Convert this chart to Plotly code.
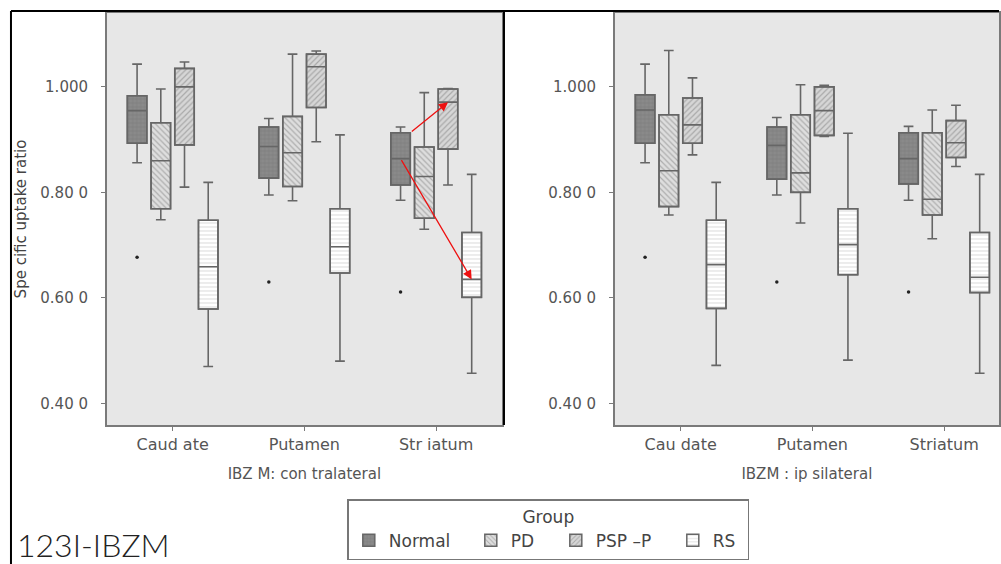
import plotly.graph_objects as go

# ---------------- data ----------------
regions = ["Caudate", "Putamen", "Striatum"]
left_labels = ["Caud ate", "Putamen", "Str iatum"]
right_labels = ["Cau date", "Putamen", "Striatum"]
groups = ["Normal", "PD", "PSP \u2013P", "RS"]

# contralateral  (rows: Normal, PD, PSP-P, RS ; columns: Caudate, Putamen, Striatum)
con_hi = [[1.043, 0.940, 0.924], [0.996, 1.062, 0.989], [1.047, 1.068, 0.997], [0.819, 0.909, 0.834]]
con_q3 = [[0.983, 0.924, 0.913], [0.932, 0.944, 0.886], [1.035, 1.062, 0.996], [0.747, 0.769, 0.724]]
con_md = [[0.955, 0.887, 0.864], [0.860, 0.875, 0.830], [1.000, 1.038, 0.971], [0.659, 0.697, 0.635]]
con_q1 = [[0.893, 0.827, 0.814], [0.769, 0.811, 0.751], [0.890, 0.961, 0.882], [0.579, 0.647, 0.601]]
con_lo = [[0.856, 0.795, 0.785], [0.748, 0.784, 0.730], [0.810, 0.896, 0.814], [0.470, 0.480, 0.457]]
con_outlier = [0.677, 0.630, 0.611]   # Normal group

# ipsilateral
ips_hi = [[1.043, 0.942, 0.925], [1.069, 1.004, 0.956], [1.017, 1.003, 0.965], [0.819, 0.912, 0.834]]
ips_q3 = [[0.985, 0.924, 0.913], [0.947, 0.947, 0.913], [0.979, 1.000, 0.936], [0.747, 0.769, 0.724]]
ips_md = [[0.956, 0.889, 0.864], [0.841, 0.837, 0.787], [0.928, 0.955, 0.894], [0.663, 0.701, 0.639]]
ips_q1 = [[0.893, 0.825, 0.816], [0.773, 0.800, 0.757], [0.893, 0.908, 0.866], [0.580, 0.644, 0.610]]
ips_lo = [[0.856, 0.795, 0.785], [0.757, 0.742, 0.712], [0.871, 0.906, 0.849], [0.472, 0.482, 0.457]]
ips_outlier = [0.677, 0.630, 0.611]

y_ticks = [0.4, 0.6, 0.8, 1.0]
y_ticktext = ["0.40 0", "0.60 0", "0.80 0", "1.000"]

# ---------------- styles ----------------
LINE = "#666666"
styles = [
    dict(bg="#8a8a8a", fg="#727272", shape="+", size=4, solidity=0.3, lw=77),
    dict(bg="#dedede", fg="#7c7c7c", shape="\\", size=4, solidity=0.3, lw=40),
    dict(bg="#d6d6d6", fg="#7c7c7c", shape="/", size=4, solidity=0.3, lw=72),
    dict(bg="#ffffff", fg="#b5b5b5", shape="-", size=4, solidity=0.25, lw=30),
]
SLOT = 0.18
BOXW = 0.148
FONT = "DejaVu Sans"

def gpos(region_idx, group_idx):
    return region_idx + (group_idx - 1.5) * SLOT

fig = go.Figure()

panels = [
    ("x", "y", con_hi, con_q3, con_md, con_q1, con_lo, con_outlier, True),
    ("x2", "y2", ips_hi, ips_q3, ips_md, ips_q1, ips_lo, ips_outlier, False),
]
for xa, ya, hi, q3, md, q1, lo, outl, show in panels:
    for g, name in enumerate(groups):
        pos = [gpos(i, g) for i in range(len(regions))]
        st = styles[g]
        fig.add_trace(go.Bar(
            x=pos, y=[b - a for a, b in zip(q1[g], q3[g])], base=q1[g], width=BOXW,
            xaxis=xa, yaxis=ya, name=name, legendgroup=name, showlegend=show,
            legendwidth=st["lw"],
            marker=dict(color=st["bg"], line=dict(color=LINE, width=1.5),
                        pattern=dict(shape=st["shape"], fgcolor=st["fg"], bgcolor=st["bg"],
                                     size=st["size"], solidity=st["solidity"])),
            hoverinfo="skip",
        ))
        fig.add_trace(go.Box(
            x=pos, q1=q1[g], median=md[g], q3=q3[g], lowerfence=lo[g], upperfence=hi[g],
            width=BOXW, whiskerwidth=0.5, boxpoints=False,
            fillcolor="rgba(0,0,0,0)", line=dict(color=LINE, width=1.6),
            xaxis=xa, yaxis=ya, name=name, legendgroup=name, showlegend=False,
        ))
    fig.add_trace(go.Scatter(
        x=[gpos(i, 0) for i in range(len(regions))], y=outl, mode="markers",
        marker=dict(color="#222222", size=3.5), xaxis=xa, yaxis=ya, showlegend=False,
        hoverinfo="skip",
    ))

W, H = 1001, 564
def px_x(p):
    return p / W
def px_y(p):
    return 1 - p / H

axis_line = dict(showgrid=False, zeroline=False, showline=True, linecolor="#7a7a7a",
                 linewidth=1.5, mirror=True, ticks="outside", ticklen=4, tickcolor="#7a7a7a")
ytick_font = dict(family=FONT, size=15, color="#555555")
xtick_font = dict(family=FONT, size=16, color="#555555")

# hand-drawn red arrows (Striatum, contralateral): Normal -> PSP-P median, Normal -> RS median
s = 2
red_arrows = [
    dict(x=gpos(s, 2), y=con_md[2][s], ax=gpos(s, 0) + BOXW / 2, ay=con_q3[0][s]),
    dict(x=gpos(s, 3), y=con_md[3][s], ax=gpos(s, 0), ay=con_md[0][s]),
]
arrow_annots = [
    dict(xref="x", yref="y", axref="x", ayref="y", x=a["x"], y=a["y"], ax=a["ax"], ay=a["ay"],
         text="", showarrow=True, arrowhead=2, arrowsize=1.4, arrowwidth=1.3,
         arrowcolor="#ee1111", standoff=0, startstandoff=0)
    for a in red_arrows
]

fig.update_layout(
    width=W, height=H, margin=dict(l=0, r=0, t=0, b=0),
    paper_bgcolor="white", plot_bgcolor="#e7e7e7",
    barmode="overlay", boxmode="overlay",
    font=dict(family=FONT, color="#555555"),
    xaxis=dict(domain=[px_x(107), px_x(503)], range=[-0.5, 2.5], tickvals=[0, 1, 2],
               ticktext=left_labels, anchor="y", tickfont=xtick_font,
               title=dict(text="IBZ M: con tralateral", standoff=16,
                          font=dict(family=FONT, size=15, color="#555555")),
               **axis_line),
    xaxis2=dict(domain=[px_x(616), 1.0], range=[-0.5, -0.5 + 385 / 132], tickvals=[0, 1, 2],
                ticktext=right_labels, anchor="y2", tickfont=xtick_font,
                title=dict(text="IBZM : ip silateral", standoff=16,
                           font=dict(family=FONT, size=15, color="#555555")),
                **axis_line),
    yaxis=dict(domain=[px_y(425), px_y(13)], range=[0.359, 1.140], tickvals=y_ticks,
               ticktext=y_ticktext, anchor="x", tickfont=ytick_font, ticklabelstandoff=10,
               title=dict(text="Spe cific uptake ratio", standoff=10,
                          font=dict(family=FONT, size=15, color="#444444")),
               **axis_line),
    yaxis2=dict(domain=[px_y(425), px_y(13)], range=[0.359, 1.140], tickvals=y_ticks,
                ticktext=y_ticktext, anchor="x2", tickfont=ytick_font, ticklabelstandoff=10,
                **axis_line),
    legend=dict(orientation="h", x=px_x(348), xanchor="left", y=px_y(499), yanchor="top",
                title=dict(text="Group", side="top center",
                           font=dict(family=FONT, size=17, color="#444444")),
                font=dict(family=FONT, size=17, color="#444444"),
                bordercolor="#777777", borderwidth=1.5, bgcolor="white",
                itemwidth=30, traceorder="normal"),
    showlegend=True,
    shapes=[
        dict(type="line", xref="paper", yref="paper", x0=px_x(11), x1=1.0, y0=px_y(11), y1=px_y(11),
             line=dict(color="black", width=2)),
        dict(type="line", xref="paper", yref="paper", x0=px_x(11), x1=px_x(11), y0=px_y(11), y1=0,
             line=dict(color="black", width=2)),
        dict(type="line", xref="paper", yref="paper", x0=px_x(505), x1=px_x(505), y0=px_y(11), y1=px_y(425),
             line=dict(color="black", width=2)),
    ],
    annotations=[
        dict(text="123I-IBZM", xref="paper", yref="paper", x=px_x(15), y=px_y(544),
             xanchor="left", yanchor="middle", showarrow=False,
             font=dict(family="Lato", size=32, color="#222222", weight=300)),
    ] + arrow_annots,
)

fig.write_html("out.html")
